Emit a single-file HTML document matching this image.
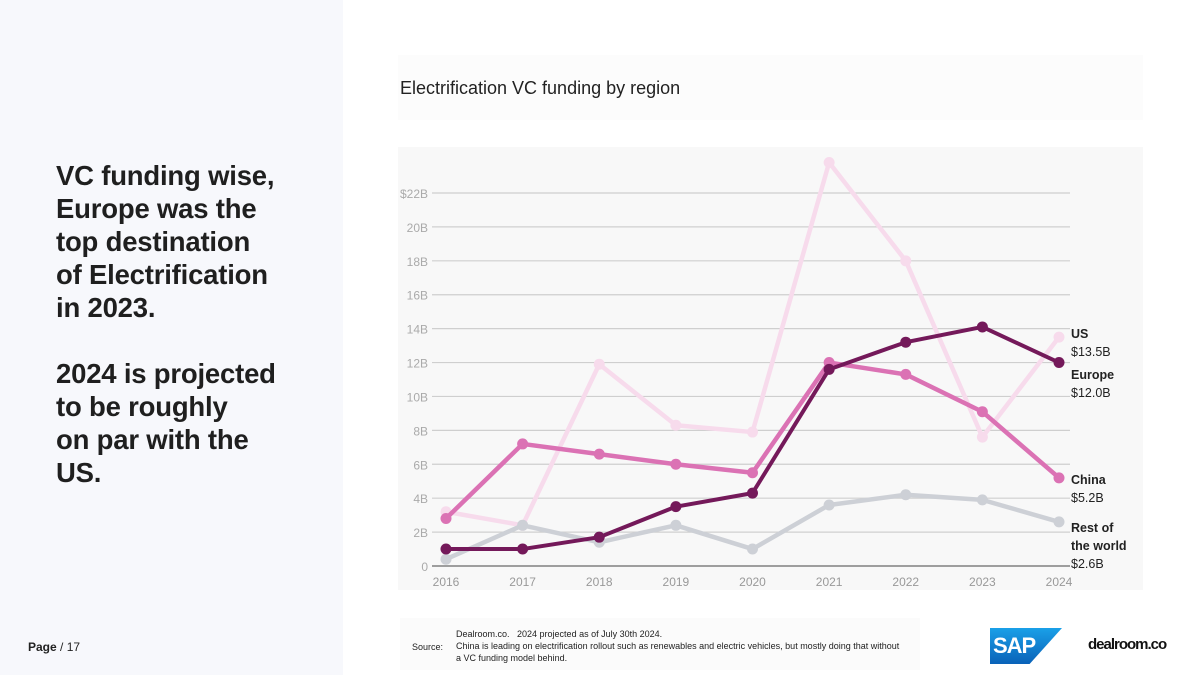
<!DOCTYPE html>
<html><head><meta charset="utf-8"><style>
body{margin:0;width:1200px;height:675px;position:relative;background:#fff;font-family:"Liberation Sans",sans-serif;overflow:hidden}
#left{position:absolute;left:0;top:0;width:343px;height:675px;background:#f7f8fc}
#headline{position:absolute;left:56px;top:159px;font-size:27.5px;font-weight:bold;color:#1f1f1f;line-height:33px;letter-spacing:-0.2px}
#page{position:absolute;left:28px;top:640px;font-size:12px;color:#222}
#titlebox{position:absolute;left:398px;top:55px;width:745px;height:65px;background:#fcfcfc}
#title{position:absolute;left:400px;top:78px;font-size:18px;color:#222}
#chartbg{position:absolute;left:398px;top:147px;width:745px;height:443px;background:#f8f8f8}
svg{position:absolute;left:0;top:0}
#srcbox{position:absolute;left:400px;top:618px;width:520px;height:52px;background:#fbfbfb}
#src{position:absolute;left:412px;top:642px;font-size:9px;color:#222}
#srctext{position:absolute;left:456px;top:628px;font-size:9px;color:#222;line-height:12px;width:450px}
#sap{position:absolute;left:990px;top:628px;width:72px;height:36px;background:linear-gradient(#1aa0e8,#0a62b8);clip-path:polygon(0 0,100% 0,55% 100%,0 100%);color:#fff;font-weight:bold;font-size:22px;line-height:36px;padding-left:3px;box-sizing:border-box;letter-spacing:-1px}
#dr{position:absolute;left:1088px;top:636px;font-size:15px;font-weight:bold;color:#111;letter-spacing:-1px}
</style></head><body>
<div id="left"></div>
<div id="headline">VC funding wise,<br>Europe was the<br>top destination<br>of Electrification<br>in 2023.<br><br>2024 is projected<br>to be roughly<br>on par with the<br>US.</div>
<div id="page"><b>Page</b> / 17</div>
<div id="titlebox"></div>
<div id="title">Electrification VC funding by region</div>
<div id="chartbg"></div>
<svg id="chart" width="1200" height="675"></svg>
<div id="srcbox"></div>
<div id="src">Source:</div>
<div id="srctext">Dealroom.co.&nbsp;&nbsp; 2024 projected as of July 30th 2024.<br>China is leading on electrification rollout such as renewables and electric vehicles, but mostly doing that without a VC funding model behind.</div>
<div id="sap">SAP</div>
<div id="dr">dealroom.co</div>
<script>
const years=["2016","2017","2018","2019","2020","2021","2022","2023","2024"];
const usVals=[3.2,2.4,11.9,8.3,7.9,23.8,18.0,7.6,13.5];
const chinaVals=[2.8,7.2,6.6,6.0,5.5,12.0,11.3,9.1,5.2];
const europeVals=[1.0,1.0,1.7,3.5,4.3,11.6,13.2,14.1,12.0];
const rowVals=[0.4,2.4,1.4,2.4,1.0,3.6,4.2,3.9,2.6];
const yTicks=[0,2,4,6,8,10,12,14,16,18,20,22];
const yTickLabels=["0","2B","4B","6B","8B","10B","12B","14B","16B","18B","20B","$22B"];
const NS="http://www.w3.org/2000/svg";
const svg=document.getElementById('chart');
const xS=i=>446+i*(1059-446)/(years.length-1);
const yS=v=>566-v*(566-193)/22;
function mk(t,a){const e=document.createElementNS(NS,t);for(const k in a)e.setAttribute(k,a[k]);svg.appendChild(e);return e;}
yTicks.forEach((t,i)=>{
 const l=mk('line',{x1:432,x2:1070,y1:yS(t),y2:yS(t),stroke:t===0?'#444':'#cfcfcf','stroke-width':t===0?1:1.2});
 
 
 const tx=mk('text',{x:428,y:yS(t)+5,'text-anchor':'end','font-size':12,fill:'#aaa'});
 tx.textContent=yTickLabels[i];
 
 
});
years.forEach((y,i)=>{
 const tx=mk('text',{x:xS(i),y:586,'text-anchor':'middle','font-size':12,fill:'#999'});
 tx.textContent=y;
 
 
});
function series(vals,color,name,w){
 const p=mk('polyline',{points:vals.map((v,i)=>xS(i)+','+yS(v)).join(' '),fill:'none',stroke:color,'stroke-width':w,'stroke-linejoin':'round'});
 
 
 vals.forEach((v,i)=>{const c=mk('circle',{cx:xS(i),cy:yS(v),r:5.5,fill:color});
 
 });
}
series(usVals,'#f7dbec','us',4.5);
series(rowVals,'#cdd0d6','rest-of-world',4.5);
series(chinaVals,'#db72b4','china',4.5);
series(europeVals,'#74195a','europe',4);
function label(lines,y,name){
 lines.forEach((s,i)=>{const t=mk('text',{x:1071,y:y+i*18,'font-size':12.5,fill:'#222','font-weight':i<lines.length-1?'bold':'normal'});
 t.textContent=s;
 
 });
}
label(['US','$'+usVals[8].toFixed(1)+'B'],338,'us');
label(['Europe','$'+europeVals[8].toFixed(1)+'B'],379,'europe');
label(['China','$'+chinaVals[8].toFixed(1)+'B'],484,'china');
label(['Rest of','the world','$'+rowVals[8].toFixed(1)+'B'],532,'rest-of-world');
</script>
</body></html>
